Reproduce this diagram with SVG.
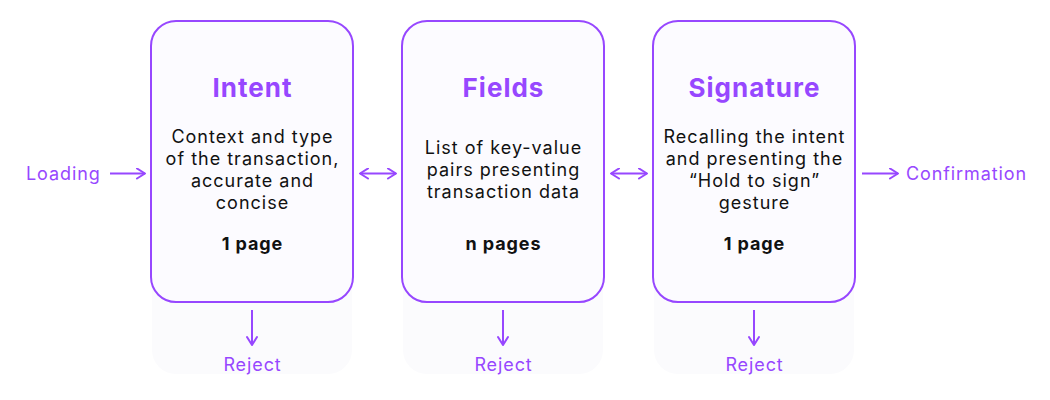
<svg xmlns="http://www.w3.org/2000/svg" width="1050" height="400" viewBox="0 0 1050 400">
<defs>
<marker id="ah" viewBox="0 0 12 12" refX="10" refY="6" markerWidth="12" markerHeight="12" markerUnits="userSpaceOnUse" orient="auto-start-reverse">
<path d="M2 1 L10 6 L2 11" fill="none" stroke="#9747FF" stroke-width="2" stroke-linecap="round" stroke-linejoin="round"/>
</marker>
</defs>
<style>
.back{fill:#FBFBFD;}
.card{fill:#FCFBFF;stroke:#9747FF;stroke-width:2;}
.title{font-family:Inter,"Liberation Sans",sans-serif;font-size:26px;font-weight:700;fill:#9747FF;text-anchor:middle;letter-spacing:1px;}
.body{font-family:Inter,"Liberation Sans",sans-serif;font-size:18px;fill:#111111;text-anchor:middle;letter-spacing:1px;}
.pages{font-family:Inter,"Liberation Sans",sans-serif;font-size:18px;font-weight:700;fill:#111111;text-anchor:middle;letter-spacing:0.9px;}
.lbl{font-family:Inter,"Liberation Sans",sans-serif;font-size:18px;fill:#9747FF;letter-spacing:0.9px;}
.conn{stroke:#9747FF;stroke-width:2;fill:none;}
</style>
<rect width="1050" height="400" fill="#FFFFFF"/>
<g id="node-intent">
<rect class="back" x="152" y="40" width="200" height="334" rx="24"/>
<rect class="card" x="151" y="21" width="202" height="281" rx="25"/>
<text class="title" x="252.5" y="97">Intent</text>
<text class="body" x="252.5" y="142.5">Context and type</text>
<text class="body" x="252.5" y="164.5">of the transaction,</text>
<text class="body" x="252.5" y="186.5">accurate and</text>
<text class="body" x="252.5" y="208.5">concise</text>
<text class="pages" x="252.5" y="250">1 page</text>
</g>
<g id="node-fields">
<rect class="back" x="403" y="40" width="200" height="334" rx="24"/>
<rect class="card" x="402" y="21" width="202" height="281" rx="25"/>
<text class="title" x="503.5" y="97">Fields</text>
<text class="body" x="503.5" y="153.5">List of key-value</text>
<text class="body" x="503.5" y="175.5">pairs presenting</text>
<text class="body" x="503.5" y="197.5">transaction data</text>
<text class="pages" x="503.5" y="250">n pages</text>
</g>
<g id="node-signature">
<rect class="back" x="654" y="40" width="200" height="334" rx="24"/>
<rect class="card" x="653" y="21" width="202" height="281" rx="25"/>
<text class="title" x="754.5" y="97">Signature</text>
<text class="body" x="754.5" y="142.5">Recalling the intent</text>
<text class="body" x="754.5" y="164.5">and presenting the</text>
<text class="body" x="754.5" y="186.5">“Hold to sign”</text>
<text class="body" x="754.5" y="208.5">gesture</text>
<text class="pages" x="754.5" y="250">1 page</text>
</g>
<g id="node-loading"><text class="lbl" x="26" y="180">Loading</text></g>
<g id="node-confirmation"><text class="lbl" x="906" y="180">Confirmation</text></g>
<g id="node-reject1"><text class="lbl" x="252.5" y="370.5" text-anchor="middle">Reject</text></g>
<g id="node-reject2"><text class="lbl" x="503.5" y="370.5" text-anchor="middle">Reject</text></g>
<g id="node-reject3"><text class="lbl" x="754.5" y="370.5" text-anchor="middle">Reject</text></g>
<g id="connectors">
<line class="conn" x1="110" y1="173.5" x2="145" y2="173.5" marker-end="url(#ah)"/>
<line class="conn" x1="360" y1="173.5" x2="396" y2="173.5" marker-start="url(#ah)" marker-end="url(#ah)"/>
<line class="conn" x1="611" y1="173.5" x2="647" y2="173.5" marker-start="url(#ah)" marker-end="url(#ah)"/>
<line class="conn" x1="862" y1="173.5" x2="898" y2="173.5" marker-end="url(#ah)"/>
<line class="conn" x1="252" y1="310" x2="252" y2="345" marker-end="url(#ah)"/>
<line class="conn" x1="503" y1="310" x2="503" y2="345" marker-end="url(#ah)"/>
<line class="conn" x1="754" y1="310" x2="754" y2="345" marker-end="url(#ah)"/>
</g>
</svg>
